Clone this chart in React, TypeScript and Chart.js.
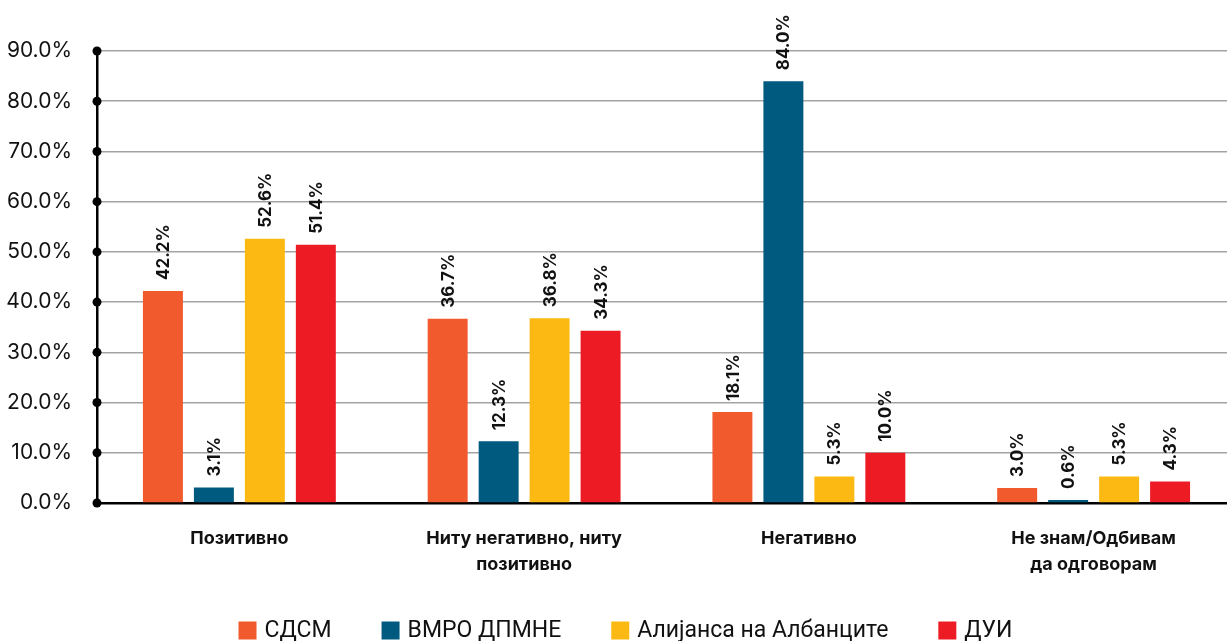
import React, { useEffect, useRef } from "react";
import { Chart, registerables } from "chart.js";

Chart.register(...registerables);

const categories: (string | string[])[] = [
  "Позитивно",
  ["Ниту негативно, ниту", "позитивно"],
  "Негативно",
  ["Не знам/Одбивам", "да одговорам"],
];
const seriesNames = ["СДСМ", "ВМРО ДПМНЕ", "Алијанса на Албанците", "ДУИ"];
const sdsm = [42.2, 36.7, 18.1, 3.0];
const vmro = [3.1, 12.3, 84.0, 0.6];
const alijansa = [52.6, 36.8, 5.3, 5.3];
const dui = [51.4, 34.3, 10.0, 4.3];
const seriesColors = ["#F15A2C", "#005A80", "#FDB913", "#ED1C24"];
const yTicks = [0, 10, 20, 30, 40, 50, 60, 70, 80, 90];

const labelPlugin = {
  id: "barLabels",
  afterDatasetsDraw(chart: any) {
    const ctx = chart.ctx;
    ctx.save();
    ctx.font = "bold 17px Inter, 'Noto Sans', sans-serif";
    ctx.fillStyle = "#111";
    ctx.textAlign = "left";
    ctx.textBaseline = "middle";
    chart.data.datasets.forEach((ds: any, i: number) => {
      const meta = chart.getDatasetMeta(i);
      meta.data.forEach((el: any, j: number) => {
        const v = ds.data[j] as number;
        ctx.save();
        ctx.translate(el.x + 1, el.y - 11);
        ctx.rotate(-Math.PI / 2);
        ctx.fillText(v.toFixed(1) + "%", 0, 0);
        ctx.restore();
      });
    });
    ctx.restore();
  },
};

const axisDotsPlugin = {
  id: "axisDots",
  afterDraw(chart: any) {
    const ctx = chart.ctx;
    const y = chart.scales.y;
    const left = chart.chartArea.left;
    ctx.save();
    ctx.fillStyle = "#000";
    yTicks.forEach((t) => {
      const py = y.getPixelForValue(t);
      ctx.beginPath();
      ctx.arc(left, py, 4.5, 0, Math.PI * 2);
      ctx.fill();
    });
    ctx.restore();
  },
};

const legendPlugin = {
  id: "customLegend",
  afterDraw(chart: any) {
    const ctx = chart.ctx;
    ctx.save();
    ctx.font = "23px Roboto, sans-serif";
    const box = 18;
    const gapText = 8;
    const gapItem = 50;
    const widths = seriesNames.map((n) => box + gapText + ctx.measureText(n).width);
    const total = widths.reduce((a, b) => a + b, 0) + gapItem * (seriesNames.length - 1);
    let x = chart.width / 2 - total / 2;
    const cy = chart.height - 10.5;
    ctx.textBaseline = "middle";
    ctx.textAlign = "left";
    seriesNames.forEach((n, i) => {
      ctx.fillStyle = seriesColors[i];
      ctx.fillRect(x, cy - box / 2, box, box);
      ctx.fillStyle = "#111";
      ctx.fillText(n, x + box + gapText, cy + 1);
      x += widths[i] + gapItem;
    });
    ctx.restore();
  },
};

export default function App() {
  const ref = useRef<HTMLCanvasElement | null>(null);
  useEffect(() => {
    if (!ref.current) return;
    const values = [sdsm, vmro, alijansa, dui];
    const chart = new Chart(ref.current, {
      type: "bar",
      data: {
        labels: categories,
        datasets: seriesNames.map((name, i) => ({
          label: name,
          data: values[i],
          backgroundColor: seriesColors[i],
          categoryPercentage: 0.716,
          barPercentage: 0.784,
        })),
      },
      options: {
        animation: false,
        responsive: true,
        maintainAspectRatio: false,
        layout: { padding: { top: 51, right: 15, bottom: 0, left: 0 } },
        plugins: {
          legend: { display: false },
          tooltip: { enabled: false },
        },
        scales: {
          x: {
            grid: { display: false },
            border: { display: true, color: "#000", width: 2.5 },
            ticks: {
              color: "#111",
              padding: 15,
              maxRotation: 0,
              autoSkip: false,
              font: { family: "Inter, 'Noto Sans', sans-serif", size: 18, weight: "bold", lineHeight: 1.42 },
            },
            afterFit(scale: any) {
              scale.height = 138;
            },
          },
          y: {
            min: 0,
            max: 90,
            grid: { color: "#a3a3a3", lineWidth: 1.5, drawTicks: false },
            border: { display: true, color: "#000", width: 2.5 },
            ticks: {
              stepSize: 10,
              padding: 25,
              color: "#111",
              font: { family: "Inter, 'Noto Sans', sans-serif", size: 21 },
              callback: (v: any) => Number(v).toFixed(1) + "%",
            },
            afterFit(scale: any) {
              scale.width = 97;
            },
          },
        },
      },
      plugins: [labelPlugin, axisDotsPlugin, legendPlugin],
    });
    return () => chart.destroy();
  }, []);
  return (
    <div style={{ position: "fixed", left: 0, top: 0, width: 1227, height: 641, overflow: "hidden", background: "#fff" }}>
      <div style={{ position: "relative", width: 1251, height: 641 }}>
        <canvas ref={ref} />
      </div>
    </div>
  );
}
